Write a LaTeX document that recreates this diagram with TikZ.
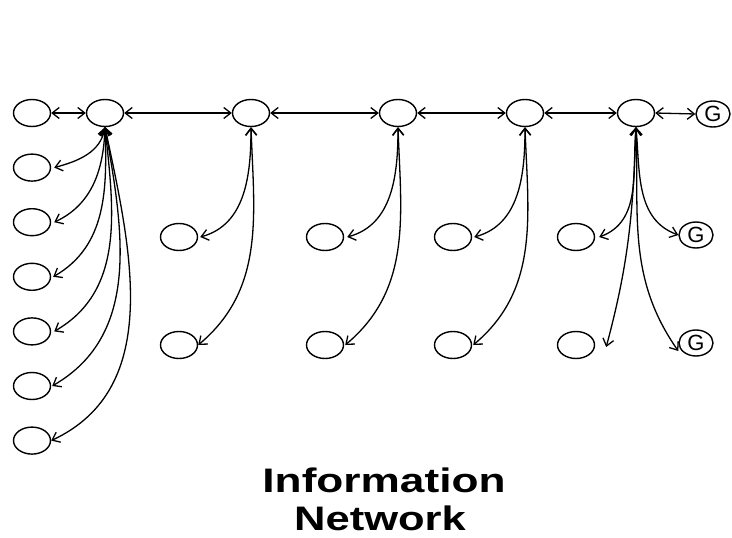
\documentclass[tikz,border=0pt]{standalone}
\usepackage{fontspec}
\setmainfont{Liberation Sans}
\usetikzlibrary{shapes.geometric,arrows.meta}
\begin{document}
\begin{tikzpicture}[x=1pt,y=-1pt,
  nd/.style={ellipse,draw,line width=1.4pt,minimum width=37pt,minimum height=27pt,inner sep=0pt},
  gn/.style={ellipse,draw,line width=1.4pt,minimum width=34pt,minimum height=26pt,inner sep=0pt,font=\fontsize{22}{22}\selectfont},
  lk/.style={line width=1.3pt,{Straight Barb[length=7pt,width=11pt]}-{Straight Barb[length=7pt,width=11pt]}},
  ttl/.style={font=\fontsize{34}{38}\selectfont\bfseries,anchor=base,inner sep=0pt}]
\path[use as bounding box] (0,0) rectangle (732,538);
% top row
\node[nd] (a0) at (32,113) {};
\node[nd] (h1) at (105,113) {};
\node[nd] (h2) at (251,113) {};
\node[nd] (h3) at (398,113) {};
\node[nd] (h4) at (525,113) {};
\node[nd] (h5) at (636,113) {};
\node[gn] (gt) at (713,114) {G};
% left column
\node[nd] (l2) at (32,167.6) {};
\node[nd] (l3) at (32,222.2) {};
\node[nd] (l4) at (32,276.8) {};
\node[nd] (l5) at (32,331.4) {};
\node[nd] (l6) at (32,386) {};
\node[nd] (l7) at (32,440.6) {};
% sub nodes
\node[nd] (s2a) at (179,237) {};
\node[nd] (s2b) at (179,345) {};
\node[nd] (s3a) at (325,237) {};
\node[nd] (s3b) at (325,345) {};
\node[nd] (s4a) at (453,237) {};
\node[nd] (s4b) at (453,345) {};
\node[nd] (s5a) at (576,237) {};
\node[nd] (s5b) at (576,345) {};
\node[gn] (g1) at (696,235) {G};
\node[gn] (g2) at (696,343) {G};
% top links
\draw[lk] (a0) -- (h1);
\draw[lk] (h1) -- (h2);
\draw[lk] (h2) -- (h3);
\draw[lk] (h3) -- (h4);
\draw[lk] (h4) -- (h5);
\draw[lk] (h5.east) -- (gt.west);
% column 1
\draw[lk] (h1.south) to[out=-100,in=15] ([xshift=3pt]l2.east);
\draw[lk] (h1.south) to[out=-92,in=25] ([xshift=3pt]l3.east);
\draw[lk] (h1.south) to[out=-88,in=30] ([xshift=2pt]l4.east);
\draw[lk] (h1.south) to[out=-84,in=30] ([xshift=3pt]l5.east);
\draw[lk] (h1.south) to[out=-80,in=30] ([xshift=1pt]l6.east);
\draw[lk] (h1.south) to[out=-78,in=25] (l7.east);
% column 2
\draw[lk] (h2.south) to[out=-90,in=15] ([xshift=2pt]s2a.east);
\draw[lk] (h2.south) to[out=-88,in=40] (s2b.east);
% column 3
\draw[lk] (h3.south) to[out=-90,in=15] ([xshift=3pt]s3a.east);
\draw[lk] (h3.south) to[out=-88,in=40] ([xshift=1pt]s3b.east);
% column 4
\draw[lk] (h4.south) to[out=-90,in=15] ([xshift=2pt]s4a.east);
\draw[lk] (h4.south) to[out=-88,in=40] ([xshift=1pt]s4b.east);
% column 5
\draw[lk] (h5.south) to[out=-95,in=20] ([xshift=4pt]s5a.east);
\draw[lk] (h5.south) to[out=-92,in=75] ([xshift=11pt,yshift=-2pt]s5b.east);
\draw[lk] (h5.south) to[out=-85,in=160] (g1.west);
\draw[lk] (h5.south) to[out=-88,in=125] ([yshift=-8pt]g2.west);
% title
\node[ttl] (t1) at (384,492) {\scalebox{1.3}[1]{Information}};
\node[ttl] (t2) at (380,530) {\scalebox{1.28}[1]{Network}};
\end{tikzpicture}
\end{document}
